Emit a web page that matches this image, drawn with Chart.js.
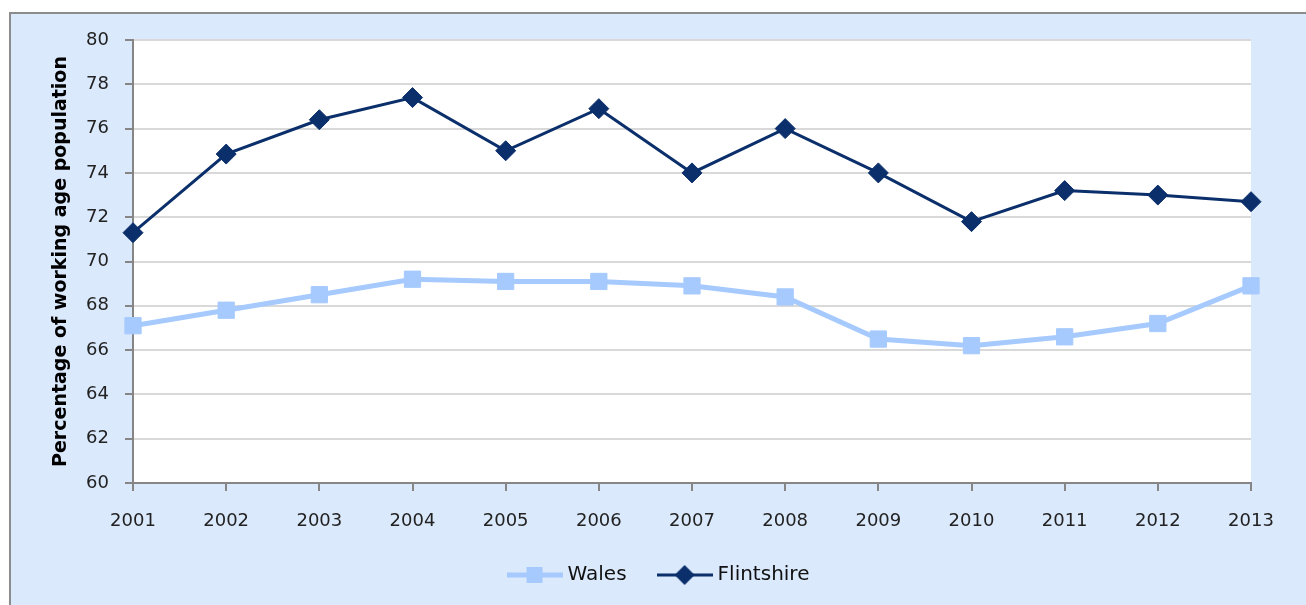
<!DOCTYPE html>
<html>
<head>
<meta charset="utf-8">
<script src="https://cdn.jsdelivr.net/npm/chart.js@4/dist/chart.umd.min.js"></script>
<style>
  body { margin: 0; background: #ffffff; }
</style>
</head>
<body>
<canvas id="employmentChart" width="1306" height="605"></canvas>
<script>
var years = ["2001", "2002", "2003", "2004", "2005", "2006", "2007",
             "2008", "2009", "2010", "2011", "2012", "2013"];
var walesRate = [67.1, 67.8, 68.5, 69.2, 69.1, 69.1, 68.9, 68.4, 66.5, 66.2, 66.6, 67.2, 68.9];
var flintshireRate = [71.3, 74.85, 76.4, 77.4, 75.0, 76.9, 74.0, 76.0, 74.0, 71.8, 73.2, 73.0, 72.7];
var yMin = 60;
var yMax = 80;
var yStep = 2;

var walesColor = "#a6cafd";
var flintColor = "#0b2f6b";
var axisColor = "#868686";
var fontFamily = "'DejaVu Sans', Verdana, sans-serif";

// little line + marker pictures for the legend
function legendIcon(color, lineWidth, marker) {
  var c = document.createElement("canvas");
  c.width = 56;
  c.height = 24;
  var g = c.getContext("2d");
  g.strokeStyle = color;
  g.lineWidth = lineWidth;
  g.beginPath();
  g.moveTo(0, 12);
  g.lineTo(56, 12);
  g.stroke();
  g.fillStyle = color;
  g.beginPath();
  if (marker === "square") {
    g.rect(20, 4, 16, 16);
  } else {
    g.moveTo(28, 2);
    g.lineTo(38, 12);
    g.lineTo(28, 22);
    g.lineTo(18, 12);
    g.closePath();
  }
  g.fill();
  return c;
}

var legendIcons = [legendIcon(walesColor, 5, "square"), legendIcon(flintColor, 3, "diamond")];

const backgroundPlugin = {
  id: 'background',
  afterLayout: function (chart) {
    // legend sits centred on the frame, not on the canvas
    if (chart.legend) {
      chart.legend.left += 35;
      chart.legend.right += 35;
    }
  },
  beforeDraw: function (chart) {
    const ctx = chart.ctx;
    const area = chart.chartArea;
    ctx.save();
    ctx.fillStyle = '#ffffff';
    ctx.fillRect(0, 0, chart.width, chart.height);
    ctx.fillStyle = '#dbe9fc';
    ctx.fillRect(9, 12, chart.width - 9, chart.height - 12);
    ctx.strokeStyle = '#8c8c8c';
    ctx.lineWidth = 2;
    ctx.beginPath();
    ctx.moveTo(10, chart.height);
    ctx.lineTo(10, 13);
    ctx.lineTo(chart.width, 13);
    ctx.stroke();
    ctx.fillStyle = '#ffffff';
    ctx.fillRect(area.left, area.top, area.right - area.left, area.bottom - area.top);
    ctx.restore();
  }
};

var ctx = document.getElementById("employmentChart").getContext("2d");

var employmentChart = new Chart(ctx, {
  type: 'line',
  data: {
    labels: years,
    datasets: [{
      label: 'Wales',
      data: walesRate,
      borderColor: walesColor,
      backgroundColor: walesColor,
      borderWidth: 5,
      pointStyle: 'rect',
      pointRadius: 11.5,
      pointBorderWidth: 1,
      tension: 0
    }, {
      label: 'Flintshire',
      data: flintshireRate,
      borderColor: flintColor,
      backgroundColor: flintColor,
      borderWidth: 3,
      pointStyle: 'rectRot',
      pointRadius: 10,
      pointBorderWidth: 1,
      tension: 0
    }]
  },
  options: {
    responsive: false,
    animation: false,
    layout: {
      padding: { top: 40, right: 55, left: 0, bottom: 10 }
    },
    scales: {
      x: {
        offset: false,
        grid: {
          drawOnChartArea: false,
          tickLength: 8,
          tickColor: axisColor,
          lineWidth: 2
        },
        border: { color: axisColor, width: 2 },
        ticks: {
          color: '#222222',
          font: { family: fontFamily, size: 18 },
          padding: 20,
          maxRotation: 0,
          autoSkip: false
        },
        afterFit: function (scale) { scale.height = 47; }
      },
      y: {
        min: yMin,
        max: yMax,
        grid: {
          color: '#d9d9d9',
          lineWidth: 2,
          tickLength: 8,
          tickColor: axisColor
        },
        border: { color: axisColor, width: 2 },
        ticks: {
          stepSize: yStep,
          color: '#222222',
          font: { family: fontFamily, size: 18 },
          padding: 16
        },
        title: {
          display: true,
          text: 'Percentage of working age population',
          color: '#000000',
          font: { family: fontFamily, size: 19, weight: 'bold' },
          padding: { top: 50, bottom: 0 }
        },
        afterFit: function (scale) { scale.width = 133; }
      }
    },
    plugins: {
      legend: {
        position: 'bottom',
        labels: {
          usePointStyle: true,
          pointStyleWidth: 46,
          padding: 35,
          color: '#111111',
          font: { family: fontFamily, size: 20 },
          generateLabels: function (chart) {
            var items = Chart.defaults.plugins.legend.labels.generateLabels(chart);
            items.forEach(function (item, i) {
              item.pointStyle = legendIcons[i];
            });
            return items;
          }
        }
      },
      tooltip: { enabled: false }
    }
  },
  plugins: [backgroundPlugin]
});
</script>
</body>
</html>
